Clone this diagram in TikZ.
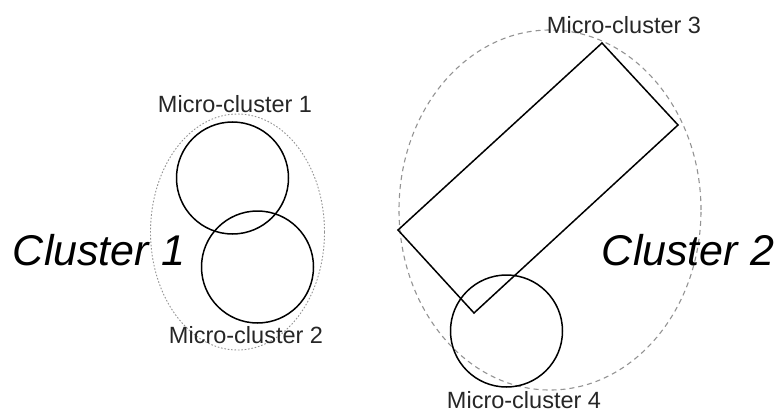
\documentclass[tikz,border=0pt]{standalone}
\usepackage{fontspec}
\setmainfont{Liberation Sans}
\usepackage{tikz}

\tikzset{
  micro/.style={line width=1.5pt},
  microlabel/.style={anchor=base,inner sep=0pt,text=black!85,font=\fontsize{23.5}{24}\selectfont},
  clusterlabel/.style={anchor=base,inner sep=0pt,font=\fontsize{43}{44}\selectfont\itshape},
}

\begin{document}
\begin{tikzpicture}[x=1pt,y=-1pt]
  \useasboundingbox (0,0) rectangle (779,412);
  % outer cluster boundaries
  \draw[gray!85,line width=0.9pt,dash pattern=on 1.6pt off 1.8pt] (237.5,232) ellipse (87pt and 118pt);
  \draw[gray!85,line width=1.1pt,dash pattern=on 5pt off 4pt] (550,210) ellipse (151pt and 180pt);
  % micro-clusters
  \draw[micro] (232.5,178) circle (56pt);
  \draw[micro] (257.5,267) circle (56pt);
  \draw[micro] (602,43) -- (678,125) -- (474,313) -- (398,230) -- cycle;
  \draw[micro] (506.5,331) circle (56pt);
  % labels
  \node[microlabel] (mc1) at (235,112) {Micro-cluster 1};
  \node[microlabel] (mc2) at (246,343) {Micro-cluster 2};
  \node[microlabel] (mc3) at (624,34) {Micro-cluster 3};
  \node[microlabel] (mc4) at (524,408) {Micro-cluster 4};
  \node[clusterlabel] (c1) at (99,265) {Cluster 1};
  \node[clusterlabel] (c2) at (688,265) {Cluster 2};
\end{tikzpicture}
\end{document}
